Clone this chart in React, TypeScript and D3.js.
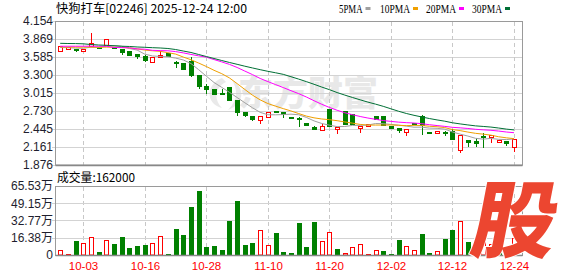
import React from "react";
import * as d3 from "d3";

const dates = ["09-29","09-30","10-02","10-03","10-06","10-08","10-09","10-10","10-13","10-14","10-15","10-16","10-17","10-20","10-21","10-22","10-23","10-24","10-27","10-28","10-30","10-31","11-03","11-04","11-05","11-06","11-07","11-10","11-11","11-12","11-13","11-14","11-17","11-18","11-19","11-20","11-21","11-24","11-25","11-26","11-27","11-28","12-01","12-02","12-03","12-04","12-05","12-08","12-09","12-10","12-11","12-12","12-15","12-16","12-17","12-18","12-19","12-22","12-23","12-24"];

const open = [3.679,3.740,3.712,3.680,3.763,3.745,3.770,3.735,3.711,3.679,3.632,3.600,3.501,3.600,3.653,3.508,3.494,3.520,3.300,3.131,3.078,3.015,3.105,2.905,2.720,2.651,2.594,2.640,2.725,2.719,2.640,2.625,2.545,2.485,2.428,2.757,2.466,2.730,2.683,2.477,2.510,2.651,2.651,2.490,2.462,2.393,2.540,2.651,2.400,2.393,2.400,2.414,2.109,2.270,2.260,2.340,2.327,2.240,2.256,2.166];
const high = [3.759,3.745,3.715,3.711,3.959,3.750,3.865,3.740,3.715,3.679,3.632,3.610,3.585,3.680,3.653,3.521,3.494,3.580,3.300,3.158,3.078,3.083,3.110,2.905,2.720,2.651,2.646,2.720,2.725,2.719,2.640,2.640,2.545,2.490,2.520,2.757,2.482,2.730,2.683,2.493,2.520,2.651,2.651,2.490,2.462,2.446,2.540,2.667,2.400,2.414,2.420,2.450,2.346,2.270,2.310,2.380,2.351,2.270,2.256,2.283];
const low = [3.679,3.735,3.680,3.680,3.760,3.720,3.770,3.720,3.632,3.621,3.574,3.516,3.501,3.595,3.595,3.427,3.395,3.290,3.090,3.010,3.000,3.000,2.905,2.660,2.652,2.590,2.545,2.640,2.715,2.635,2.630,2.500,2.510,2.440,2.428,2.490,2.390,2.520,2.520,2.403,2.510,2.604,2.509,2.465,2.404,2.350,2.520,2.362,2.390,2.393,2.350,2.287,2.074,2.180,2.170,2.160,2.245,2.240,2.190,2.098];
const close = [3.759,3.740,3.690,3.711,3.801,3.725,3.865,3.725,3.656,3.621,3.605,3.537,3.585,3.616,3.595,3.500,3.395,3.300,3.131,3.078,3.000,3.010,2.910,2.720,2.667,2.600,2.646,2.720,2.715,2.690,2.630,2.600,2.510,2.440,2.487,2.495,2.482,2.520,2.525,2.493,2.520,2.604,2.509,2.465,2.430,2.446,2.520,2.512,2.390,2.414,2.385,2.287,2.346,2.240,2.230,2.320,2.351,2.270,2.220,2.283];

// volume in 万 shares
const volume = [4.5,1.0,13.3,11.4,17.1,2.8,14.0,10.4,17.1,7.0,8.9,9.5,11.4,18.0,1.0,24.7,19.3,45.6,60.8,7.6,8.5,4.7,32.3,51.3,9.5,11.4,23.4,9.5,20.9,2.8,1.9,30.4,7.9,31.3,13.3,21.5,5.4,1.9,7.6,10.8,0.3,4.6,3.8,1.2,14.2,8.5,4.4,19.9,2.2,3.5,15.2,23.7,32.3,12.0,8.0,22.1,10.0,6.0,3.8,16.2];
const volUp = [1,1,0,1,1,0,1,0,0,0,0,0,1,1,0,0,0,0,0,0,0,0,0,0,0,0,1,1,0,0,0,0,0,0,1,1,0,1,1,1,1,1,0,0,0,1,1,0,0,1,0,0,1,0,0,1,1,0,0,1];

const ma5 = [3.735,3.732,3.725,3.722,3.740,3.733,3.758,3.765,3.754,3.718,3.694,3.629,3.601,3.593,3.588,3.567,3.538,3.481,3.384,3.281,3.181,3.104,3.026,2.944,2.861,2.781,2.709,2.671,2.670,2.674,2.680,2.671,2.629,2.574,2.533,2.506,2.483,2.485,2.502,2.503,2.508,2.532,2.530,2.518,2.506,2.491,2.474,2.475,2.460,2.456,2.444,2.398,2.364,2.334,2.298,2.285,2.297,2.282,2.278,2.289];
const ma10 = [3.742,3.742,3.741,3.740,3.741,3.738,3.740,3.740,3.735,3.729,3.714,3.694,3.683,3.674,3.653,3.631,3.584,3.541,3.489,3.434,3.374,3.321,3.254,3.164,3.071,2.981,2.906,2.848,2.807,2.768,2.731,2.690,2.650,2.622,2.604,2.593,2.577,2.557,2.538,2.518,2.507,2.508,2.508,2.510,2.504,2.499,2.503,2.502,2.489,2.481,2.468,2.436,2.420,2.397,2.377,2.364,2.348,2.323,2.306,2.293];
const ma20 = [3.755,3.755,3.755,3.755,3.756,3.754,3.756,3.735,3.733,3.730,3.712,3.708,3.690,3.686,3.683,3.670,3.650,3.625,3.603,3.582,3.544,3.507,3.468,3.419,3.362,3.306,3.245,3.195,3.148,3.101,3.052,3.005,2.952,2.893,2.837,2.787,2.742,2.703,2.672,2.643,2.619,2.599,2.579,2.566,2.554,2.546,2.540,2.530,2.513,2.500,2.487,2.472,2.464,2.454,2.441,2.432,2.425,2.413,2.398,2.387];
const ma30 = [3.801,3.798,3.797,3.793,3.782,3.774,3.770,3.762,3.755,3.751,3.743,3.738,3.732,3.727,3.719,3.703,3.679,3.656,3.624,3.592,3.561,3.529,3.498,3.469,3.439,3.411,3.384,3.358,3.335,3.310,3.273,3.235,3.195,3.153,3.109,3.068,3.022,2.982,2.944,2.907,2.871,2.839,2.804,2.765,2.726,2.691,2.662,2.636,2.611,2.589,2.569,2.544,2.526,2.510,2.495,2.486,2.476,2.461,2.444,2.431];

const priceTicks = ["4.154","3.869","3.585","3.300","3.015","2.730","2.445","2.161","1.876"];
const volTickLabels = ["65.53万","49.15万","32.77万","16.38万","0"];
const volTickValues = [65.53,49.15,32.77,16.38,0];
const dateTicks = ["10-03","10-16","10-28","11-10","11-20","12-02","12-12","12-24"];

const maNames = ["5PMA","10PMA","20PMA","30PMA"];
const maColors = ["#a0a0a0","#f0a000","#ff00ff","#006f35"];
const maSeries = [ma5, ma10, ma20, ma30];

const title = "快狗打车[02246] 2025-12-24 12:00";
const volTitle = "成交量:162000";

const RED = "#ff0000";
const GREEN = "#008000";
const GRID = "#d3d3d3";
const FRAME = "#9a9a9a";
const CJK = "'Noto Sans CJK SC', sans-serif";
const AX = "'Liberation Sans', Arial, sans-serif";

export default function App() {
  const x = d3.scalePoint<string>().domain(dates).range([60.2, 514]);
  const y = d3.scaleLinear().domain([1.876, 4.154]).range([165, 21]);
  const yv = d3.scaleLinear().domain([0, 65.53]).range([255, 186]);
  const cx = (i: number) => Math.round(x(dates[i]) as number) + 0.5;
  const ry = (v: number) => Math.round(y(v));
  const left = 55.5, right = 522.5;

  const line = (arr: number[]) =>
    d3.line<number>().x((_, i) => x(dates[i]) as number).y((v) => y(v))(arr) as string;

  const legendX = [339, 380, 426, 472];
  const legendW = [23.5, 30, 30, 30];

  return (
    <svg width={578} height={276} style={{ position: "absolute", left: 0, top: 0, display: "block", background: "#fff" }}>
      <rect x={0} y={0} width={578} height={276} fill="#fff" />

      {/* title */}
      <text x={56} y={13} fontFamily={CJK} fontSize={12} fill="#000" textLength={191} lengthAdjust="spacingAndGlyphs">{title}</text>

      {/* legend */}
      {maNames.map((n, k) => (
        <g key={n}>
          <text x={legendX[k]} y={13} fontFamily="'Liberation Serif', serif" fontSize={12} fill="#000" textLength={legendW[k]} lengthAdjust="spacingAndGlyphs">{n}</text>
          <rect x={legendX[k] + legendW[k] + 3} y={7} width={5} height={3} fill={maColors[k]} />
        </g>
      ))}

      {/* watermark */}
      <g opacity={0.55}>
        <path d="M222,78 C206,84 205,104 222,108 C214,100 214,88 226,82 Z M232,80 C246,88 244,104 228,110 C238,100 238,90 232,80 Z" fill="#d8d8d8" />
        <text x={238} y={106} fontFamily={CJK} fontWeight={900} fontSize={35} fill="#d6d6d6" textLength={140} lengthAdjust="spacingAndGlyphs">东方财富</text>
      </g>

      {/* main grid */}
      {priceTicks.map((t) => (
        <line key={t} x1={52} x2={right} y1={ry(+t) + 0.5} y2={ry(+t) + 0.5} stroke={GRID} strokeWidth={1} />
      ))}
      {dateTicks.map((d) => {
        const px = cx(dates.indexOf(d));
        return (
          <g key={d}>
            <line x1={px} x2={px} y1={22} y2={165} stroke="#c8c8c8" strokeDasharray="4,3" />
            <line x1={px} x2={px} y1={187} y2={255} stroke="#c8c8c8" strokeDasharray="4,3" />
          </g>
        );
      })}
      <rect x={left} y={21.5} width={right - left} height={143.5} fill="none" stroke={FRAME} />
      <line x1={left} x2={right} y1={165.5} y2={165.5} stroke="#888" strokeWidth={1.5} />

      {/* price labels */}
      {priceTicks.map((t) => (
        <text key={t} x={53} y={y(+t)} dy="0.36em" textAnchor="end" fontFamily={AX} fontSize={12} fill="#1e1e2e">{t}</text>
      ))}

      {/* candles */}
      {dates.map((d, i) => {
        const c = cx(i);
        const o = ry(open[i]), cl = ry(close[i]), h = ry(high[i]), l = ry(low[i]);
        if (close[i] >= open[i]) {
          const top = cl, bot = Math.max(o, cl + 2);
          return (
            <g key={d}>
              {h < top && <line x1={c} x2={c} y1={h} y2={top} stroke={RED} />}
              {l > bot && <line x1={c} x2={c} y1={bot} y2={l + 1} stroke={RED} />}
              <rect x={c - 2} y={top + 0.5} width={4} height={bot - top} fill="#fff" stroke={RED} />
            </g>
          );
        }
        const top = o, bot = Math.max(cl, o + 1);
        return (
          <g key={d}>
            <line x1={c} x2={c} y1={h} y2={l + 1} stroke={GREEN} />
            <rect x={c - 2.5} y={top} width={5} height={bot - top + 1} fill={GREEN} />
          </g>
        );
      })}

      {/* moving averages */}
      {maSeries.map((s, k) => (
        <path key={k} d={line(s)} fill="none" stroke={maColors[k]} strokeWidth={1} />
      ))}

      {/* volume panel */}
      <text x={57} y={182} fontFamily={CJK} fontSize={12} fill="#000" textLength={78} lengthAdjust="spacingAndGlyphs">{volTitle}</text>
      {volTickValues.slice(1, 4).map((v) => (
        <line key={v} x1={52} x2={right} y1={Math.round(yv(v)) + 0.5} y2={Math.round(yv(v)) + 0.5} stroke={GRID} />
      ))}
      {volume.map((v, i) => {
        const c = cx(i);
        const t = Math.min(Math.round(yv(v)), 254);
        if (volUp[i]) {
          return <rect key={i} x={c - 2} y={t + 0.5} width={4} height={255 - t - 0.5} fill="#fff" stroke={RED} />;
        }
        return <rect key={i} x={c - 2.5} y={t} width={5} height={255 - t} fill={GREEN} />;
      })}
      <rect x={left} y={186.5} width={right - left} height={69} fill="none" stroke={FRAME} />
      <line x1={left} x2={right} y1={255.5} y2={255.5} stroke="#888" strokeWidth={1.5} />
      {volTickLabels.map((t, k) => (
        <text key={t} x={53} y={yv(volTickValues[k])} dy="0.36em" textAnchor="end" fontFamily={`'Liberation Sans', ${CJK}`} fontSize={12} fill="#1e1e2e">{t}</text>
      ))}
      {dateTicks.map((d) => (
        <text key={d} x={cx(dates.indexOf(d))} y={270} textAnchor="middle" fontFamily={AX} fontSize={11.5} fill={RED}>{d}</text>
      ))}

      {/* corner logo */}
      <text transform="translate(468,251) skewX(-11)" fontFamily={CJK} fontWeight={900} fontSize={84} fill="#ec4630" stroke="#fff" strokeWidth={2} paintOrder="stroke">股</text>
    </svg>
  );
}
